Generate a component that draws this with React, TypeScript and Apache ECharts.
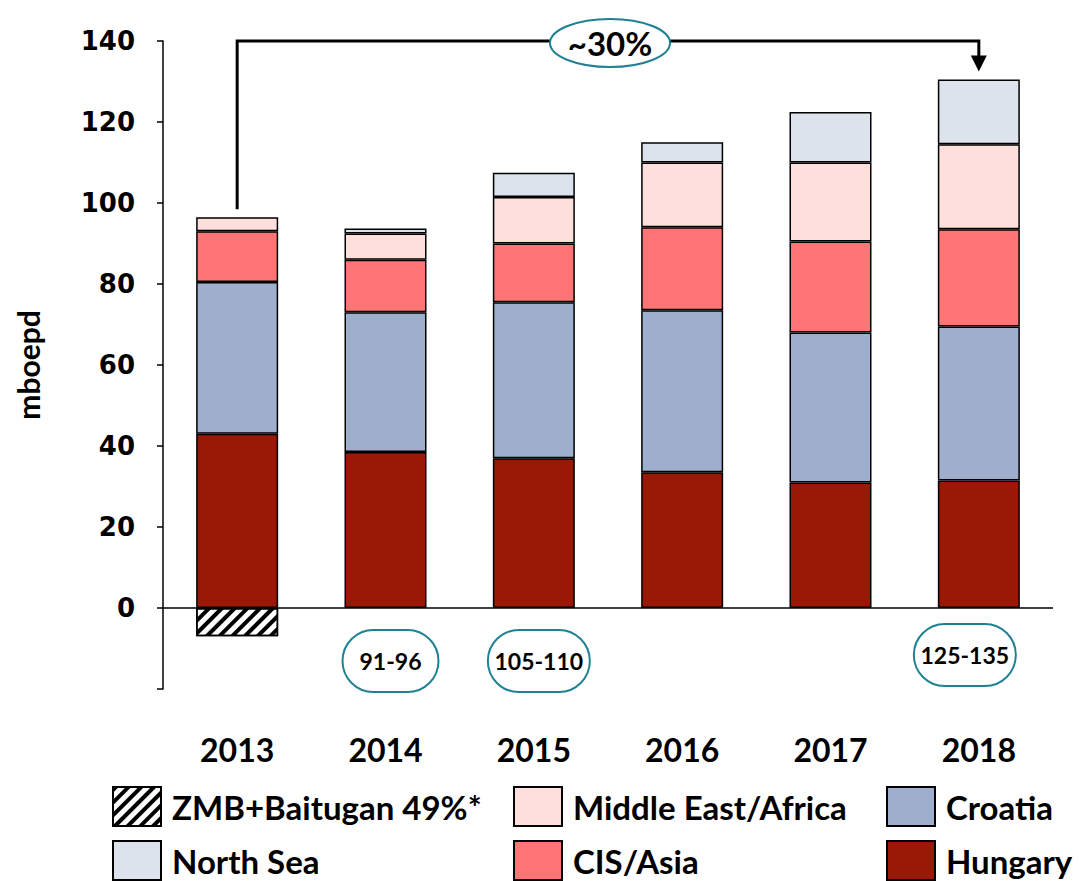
import React, { useEffect, useRef } from "react";
import * as echarts from "echarts";

const years = ["2013", "2014", "2015", "2016", "2017", "2018"];
const zmb = [-7, null, null, null, null, null];
const hungary = [43, 38.5, 37, 33.5, 31, 31.5];
const croatia = [37.5, 34.5, 38.5, 40, 37, 38];
const cisAsia = [12.5, 13, 14.5, 20.5, 22.5, 24];
const middleEastAfrica = [3.5, 6.5, 11.5, 16, 19.5, 21];
const northSea = [null, 1.2, 6, 5, 12.5, 16];
const yTicks = [-20, 0, 20, 40, 60, 80, 100, 120, 140];
const ranges = [
  { year: "2014", label: "91-96" },
  { year: "2015", label: "105-110" },
  { year: "2018", label: "125-135" },
];
const growthLabel = "~30%";

const FONT = "Lato, 'Open Sans', sans-serif";
const TICKFONT = "'DejaVu Sans', sans-serif";
const TEAL = "#1f8193";

const legendItems = [
  { name: "ZMB+Baitugan 49%*", left: 112, top: 786 },
  { name: "North Sea", left: 112, top: 840 },
  { name: "Middle East/Africa", left: 513, top: 786 },
  { name: "CIS/Asia", left: 513, top: 840 },
  { name: "Croatia", left: 886, top: 786 },
  { name: "Hungary", left: 886, top: 840 },
];

export default function App() {
  const ref = useRef<HTMLDivElement>(null);
  useEffect(() => {
    const chart = echarts.init(ref.current!, null, { renderer: "svg" });
    const border = { borderColor: "#000", borderWidth: 1.5 };
    const mk = (name: string, data: any[], color: string, extra: any = {}) => ({
      name,
      type: "bar",
      stack: "total",
      data,
      barWidth: 82,
      itemStyle: { color, ...border, ...extra },
    });
    const option: any = {
      animation: false,
      grid: { left: 163, right: 29, top: 41, bottom: 192 },
      xAxis: {
        type: "category",
        data: years,
        axisLine: { show: false, onZero: false },
        axisTick: { show: false },
        axisLabel: {
          margin: 44,
          fontFamily: FONT,
          fontWeight: "bold",
          fontSize: 32,
          color: "#000",
        },
      },
      yAxis: {
        type: "value",
        min: yTicks[0],
        max: yTicks[yTicks.length - 1],
        interval: 20,
        name: "mboepd",
        nameLocation: "middle",
        nameGap: 120,
        nameRotate: 90,
        nameTextStyle: { fontFamily: FONT, fontWeight: "bold", fontSize: 30, color: "#000" },
        axisLine: { show: true, lineStyle: { color: "#000", width: 1.5 } },
        axisTick: { show: true, length: 6, lineStyle: { color: "#000", width: 1.5 } },
        splitLine: { show: false },
        axisLabel: {
          margin: 28,
          fontFamily: TICKFONT,
          fontWeight: "bold",
          fontSize: 26,
          color: "#000",
          formatter: (v: number) => (v < 0 ? "" : String(v)),
        },
      },
      legend: legendItems.map((l) => ({
        left: l.left,
        top: l.top,
        padding: 0,
        itemWidth: 48,
        itemHeight: 39,
        data: [l.name],
        selectedMode: false,
        icon: "rect",
        textStyle: {
          fontFamily: FONT,
          fontWeight: "bold",
          fontSize: 33,
          color: "#000",
          padding: [0, 0, 0, 6],
        },
      })),
      series: [
        mk("ZMB+Baitugan 49%*", zmb, "#fff", {
          decal: {
            symbol: "rect",
            symbolSize: 1,
            dashArrayX: [1, 0],
            dashArrayY: [4, 5],
            rotation: -Math.PI / 4,
            color: "#000",
            backgroundColor: "#fff",
          },
        }),
        {
          ...mk("Hungary", hungary, "#9a1806"),
          markLine: {
            silent: true,
            symbol: "none",
            label: { show: false },
            lineStyle: { color: "#000", width: 1.5, type: "solid" },
            data: [{ yAxis: 0 }],
          },
        },
        mk("Croatia", croatia, "#9dafcc"),
        mk("CIS/Asia", cisAsia, "#ff7474"),
        mk("Middle East/Africa", middleEastAfrica, "#ffdfdb"),
        mk("North Sea", northSea, "#dde3ed"),
      ],
    };
    chart.setOption(option);

    const total = (i: number) =>
      [hungary, croatia, cisAsia, middleEastAfrica, northSea].reduce((s, a) => s + ((a[i] as number) || 0), 0);
    const p0 = chart.convertToPixel({ gridIndex: 0 }, [years[0], total(0)]) as number[];
    const pEnd = chart.convertToPixel({ gridIndex: 0 }, [years[5], total(5)]) as number[];
    const topY = chart.convertToPixel({ gridIndex: 0 }, [years[0], 140])[1] as number;
    const startY = p0[1] - 8;
    const tipY = pEnd[1] - 8;
    const graphic: any[] = [
      {
        type: "polyline",
        shape: { points: [[p0[0], startY], [p0[0], topY], [pEnd[0], topY], [pEnd[0], tipY - 12]] },
        style: { stroke: "#000", lineWidth: 3, fill: null },
      },
      {
        type: "polygon",
        shape: { points: [[pEnd[0] - 8, tipY - 16], [pEnd[0] + 8, tipY - 16], [pEnd[0], tipY]] },
        style: { fill: "#000" },
      },
      {
        type: "ellipse",
        shape: { cx: 610, cy: topY + 2, rx: 60, ry: 24 },
        style: { fill: "#fff", stroke: TEAL, lineWidth: 2 },
      },
      {
        type: "text",
        x: 610,
        y: topY + 2,
        style: {
          text: growthLabel, fill: "#000", font: `bold 33px ${FONT}`,
          align: "center", verticalAlign: "middle",
        },
      },
    ];
    ranges.forEach((r) => {
      const p = chart.convertToPixel({ gridIndex: 0 }, [r.year, 0]) as number[];
      const w = r.label.length > 5 ? 102 : 96;
      const cx = r.year === "2018" ? p[0] - 14 : p[0] + 5;
      const cy = r.year === "2018" ? 655 : 661;
      graphic.push({
        type: "rect",
        shape: { x: cx - w / 2, y: cy - 31, width: w, height: 62, r: 31 },
        style: { fill: "#fff", stroke: TEAL, lineWidth: 2 },
      });
      graphic.push({
        type: "text",
        x: cx,
        y: cy,
        style: {
          text: r.label, fill: "#000", font: `bold 23px ${FONT}`,
          align: "center", verticalAlign: "middle",
        },
      });
    });
    chart.setOption({ graphic });
    return () => chart.dispose();
  }, []);
  return (
    <div
      ref={ref}
      style={{ position: "absolute", left: 0, top: 0, width: 1082, height: 881, background: "#fff" }}
    />
  );
}
